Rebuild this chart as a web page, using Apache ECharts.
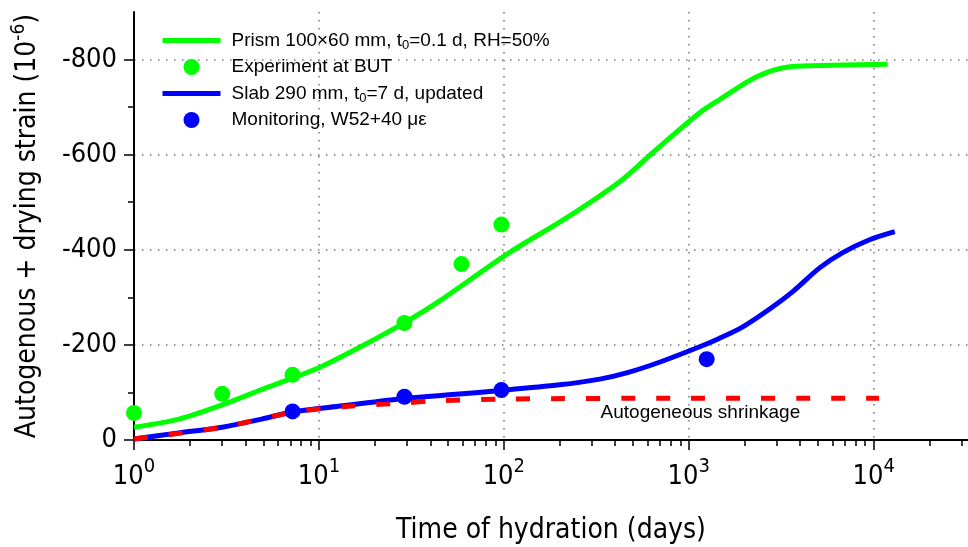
<!DOCTYPE html>
<html>
<head>
<meta charset="utf-8">
<script src="https://cdn.jsdelivr.net/npm/echarts@6/dist/echarts.min.js"></script>
<style>
  html, body { margin: 0; padding: 0; background: #fff; }
  #chart { width: 968px; height: 547px; }
</style>
</head>
<body>
<div id="chart"></div>
<script>
/* model curves (time in days, strain in 1e-6) */
const prismT = [1, 1.75, 3, 4.9, 7.2, 10.4, 17, 29.7, 44.8, 107, 218, 423, 638, 1146, 1470, 2330, 3530, 6000, 11900];
const prismV = [-27, -44, -74, -106, -130, -155, -197, -249, -292, -394, -467, -543, -604, -688, -716, -764, -785, -788, -790];

const slabT = [1, 1.75, 3, 4.9, 7.2, 13.4, 29.7, 55, 90, 200, 330, 461, 700, 1146, 1450, 1960, 2750, 3650, 5100, 6800, 9500, 13000];
const slabV = [-2, -15, -27, -44, -59, -72, -88, -96, -103, -116, -128, -141, -164, -196, -213, -238, -276, -312, -362, -394, -421, -438];

const autoT = [1, 3, 7.2, 13.4, 30, 40, 100, 1000, 10700];
const autoV = [-2, -27, -58, -70, -78, -82, -86, -88, -88];

/* measured points */
const butT = [1, 3, 7.2, 29, 59, 97];
const butV = [-57, -97, -137, -246, -370, -453];

const monT = [7.2, 29, 97, 1250];
const monV = [-60, -91, -105, -170];

/* axes */
const xMajor = [1, 10, 100, 1000, 10000];
const xMinor = [];
[1, 10, 100, 1000, 10000].forEach(d => {
    for (let k = 2; k <= 9; k++) xMinor.push(d * k);
});
const yMajor = [0, -200, -400, -600, -800];
const yMinor = [-100, -300, -500, -700];

const axisFont = "'DejaVu Sans Condensed', 'DejaVu Sans', sans-serif";
const textFont = "'Liberation Sans', Arial, sans-serif";

const zip = (a, b) => a.map((v, i) => [v, b[i]]);

const chart = echarts.init(document.getElementById('chart'));

const xBase = {
    type: 'log',
    logBase: 10,
    min: 1,
    max: 32359,
    gridIndex: 0,
    position: 'bottom',
};
const yBase = {
    type: 'value',
    min: -900,
    max: 0,
    inverse: true,
    gridIndex: 0,
    position: 'left',
};

chart.setOption({
    animation: false,
    grid: { left: 134, right: 0, top: 12, bottom: 107, outerBoundsMode: 'none', containLabel: false },
    legend: {
        orient: 'vertical',
        left: 155,
        top: 24,
        itemWidth: 58,
        itemHeight: 16,
        itemGap: 4,
        textStyle: {
            fontFamily: textFont,
            fontSize: 19,
            color: '#000',
            lineHeight: 22,
            padding: [0, 0, 0, 6],
            rich: {
                sub: { fontFamily: textFont, fontSize: 13, lineHeight: 12, padding: [10, 0, 0, 0] },
            },
        },
        formatter: name => name.replace('t0', 't{sub|0}'),
        data: [
            { name: 'Prism 100×60 mm, t0=0.1 d, RH=50%', itemStyle: { opacity: 0 }, lineStyle: { width: 5 } },
            { name: 'Experiment at BUT' },
            { name: 'Slab 290 mm, t0=7 d, updated', itemStyle: { opacity: 0 }, lineStyle: { width: 5 } },
            { name: 'Monitoring, W52+40 με' },
        ],
    },
    xAxis: [
        Object.assign({}, xBase, {
            name: 'Time of hydration (days)',
            nameLocation: 'middle',
            nameGap: 77,
            nameTextStyle: { fontFamily: axisFont, fontSize: 28, color: '#000' },
            axisLine: { lineStyle: { color: '#000', width: 2 } },
            axisTick: { customValues: xMajor, length: 10, lineStyle: { color: '#000', width: 1.5 } },
            axisLabel: {
                customValues: xMajor,
                margin: 17,
                color: '#000',
                fontFamily: axisFont,
                fontSize: 27,
                lineHeight: 40,
                formatter: v => '10{sup|' + Math.round(Math.log10(v)) + '}',
                rich: {
                    sup: { fontFamily: axisFont, fontSize: 20, lineHeight: 20, padding: [0, 0, 20, 0] },
                },
            },
            splitLine: { show: true, lineStyle: { color: '#777', width: 1.5, type: [1.5, 6.5] } },
        }),
        Object.assign({}, xBase, {
            axisLine: { show: false },
            axisTick: { customValues: xMinor, length: 6, lineStyle: { color: '#000', width: 1.5 } },
            axisLabel: { show: false },
            splitLine: { show: false },
        }),
    ],
    yAxis: [
        Object.assign({}, yBase, {
            name: 'Autogenous + drying strain (10{sup|-6})',
            nameLocation: 'middle',
            nameGap: 88,
            nameTextStyle: {
                fontFamily: axisFont,
                fontSize: 28,
                color: '#000',
                lineHeight: 36,
                rich: {
                    sup: { fontFamily: axisFont, fontSize: 19, lineHeight: 18, padding: [0, 0, 18, 0] },
                },
            },
            axisLine: { lineStyle: { color: '#000', width: 2 } },
            axisTick: { customValues: yMajor, length: 10, lineStyle: { color: '#000', width: 1.5 } },
            axisLabel: {
                customValues: yMajor,
                margin: 17,
                color: '#000',
                fontFamily: axisFont,
                fontSize: 27,
            },
            splitLine: { show: true, lineStyle: { color: '#777', width: 1.5, type: [1.5, 6.5] } },
        }),
        Object.assign({}, yBase, {
            axisLine: { show: false },
            axisTick: { customValues: yMinor, length: 6, lineStyle: { color: '#000', width: 1.5 } },
            axisLabel: { show: false },
            splitLine: { show: false },
        }),
    ],
    series: [
        {
            name: 'Prism 100×60 mm, t0=0.1 d, RH=50%',
            type: 'line',
            data: zip(prismT, prismV),
            symbol: 'none',
            smooth: 0.3,
            lineStyle: { color: '#00ff00', width: 5 },
            itemStyle: { color: '#00ff00' },
            z: 2,
        },
        {
            name: 'Slab 290 mm, t0=7 d, updated',
            type: 'line',
            data: zip(slabT, slabV),
            symbol: 'none',
            smooth: 0.3,
            lineStyle: { color: '#0000ff', width: 5 },
            itemStyle: { color: '#0000ff' },
            z: 2,
        },
        {
            name: 'Autogeneous shrinkage',
            type: 'line',
            data: zip(autoT, autoV),
            symbol: 'none',
            smooth: 0.3,
            lineStyle: { color: '#ff0000', width: 5, type: [14, 21] },
            itemStyle: { color: '#ff0000' },
            z: 3,
            markPoint: {
                symbol: 'circle',
                symbolSize: 0,
                label: {
                    show: true,
                    position: 'inside',
                    formatter: 'Autogeneous shrinkage',
                    fontFamily: textFont,
                    fontSize: 19,
                    color: '#000',
                },
                data: [{ coord: [1156, -57] }],
            },
        },
        {
            name: 'Experiment at BUT',
            type: 'scatter',
            data: zip(butT, butV),
            symbol: 'circle',
            symbolSize: 16,
            itemStyle: { color: '#00ff00', opacity: 1 },
            z: 4,
        },
        {
            name: 'Monitoring, W52+40 με',
            type: 'scatter',
            data: zip(monT, monV),
            symbol: 'circle',
            symbolSize: 16,
            itemStyle: { color: '#0000ff', opacity: 1 },
            z: 4,
        },
    ],
});
</script>
</body>
</html>
